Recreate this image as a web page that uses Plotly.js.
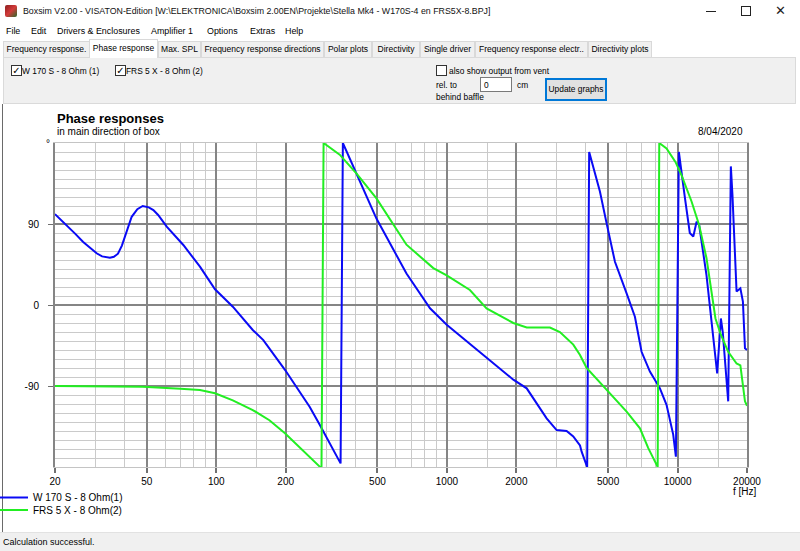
<!DOCTYPE html>
<html><head><meta charset="utf-8">
<script src="https://cdn.plot.ly/plotly-3.0.1.min.js"></script>
<style>
body{margin:0;width:800px;height:551px;overflow:hidden;background:#fff;font-family:"Liberation Sans",Arial,sans-serif;color:#000;position:relative}
.a{position:absolute;white-space:nowrap;line-height:1}
.tab{position:absolute;top:41px;height:16px;background:#f0f0f0;border:1px solid #d9d9d9;border-bottom:none;box-sizing:border-box;font-size:8.5px;text-align:center;line-height:15px;overflow:hidden;white-space:nowrap}
.tab.sel{top:39px;height:19px;background:#fff;line-height:16px;z-index:2}
.cb{position:absolute;width:11px;height:11px;border:1px solid #333;background:#fff;box-sizing:border-box;font-family:"DejaVu Sans";font-size:10px;line-height:10px;text-align:center}
.m{position:absolute;top:27px;font-size:8.9px;white-space:nowrap;line-height:1}
.p{position:absolute;font-size:8.4px;white-space:nowrap;line-height:1}
#plot{position:absolute;left:0;top:0;width:800px;height:551px;z-index:5}
</style></head>
<body>
<!-- window chrome -->
<div class="a" style="left:0;top:0;width:800px;height:22px;background:#fff"></div>
<div class="a" style="left:5px;top:5px;width:12px;height:12px;background:linear-gradient(135deg,#8a1e1e,#d43a3a 50%,#2c6a2c);border-radius:2px"></div>
<div class="a" style="left:23px;top:7px;font-size:8.8px;color:#111">Boxsim V2.00 - VISATON-Edition [W:\ELEKTRONICA\Boxsim 2.00EN\Projekte\Stella Mk4 - W170S-4 en FRS5X-8.BPJ]</div>
<div class="a" style="left:706px;top:11px;width:10px;height:1px;background:#222"></div>
<div class="a" style="left:741px;top:6px;width:10px;height:10px;border:1px solid #222;box-sizing:border-box"></div>
<div class="a" style="left:775px;top:4px;font-size:13px;font-family:'DejaVu Sans';color:#222">✕</div>
<div class="a" style="left:0;top:22px;width:800px;height:18px;background:#fff"></div>
<div class="m" style="left:6px">File</div>
<div class="m" style="left:31px">Edit</div>
<div class="m" style="left:57px">Drivers &amp; Enclosures</div>
<div class="m" style="left:151px">Amplifier 1</div>
<div class="m" style="left:207px">Options</div>
<div class="m" style="left:250px">Extras</div>
<div class="m" style="left:285px">Help</div>
<!-- tabs -->
<div class="tab" style="left:3px;width:87px">Frequency response.</div>
<div class="tab sel" style="left:89px;width:69px">Phase response</div>
<div class="tab" style="left:158px;width:43px">Max. SPL</div>
<div class="tab" style="left:201px;width:123px">Frequency response directions</div>
<div class="tab" style="left:324px;width:48px">Polar plots</div>
<div class="tab" style="left:372px;width:48px">Directivity</div>
<div class="tab" style="left:420px;width:55px">Single driver</div>
<div class="tab" style="left:475px;width:113px">Frequency response electr..</div>
<div class="tab" style="left:588px;width:64px">Directivity plots</div>
<!-- controls panel -->
<div class="a" style="left:3px;top:57px;width:793px;height:47px;background:#f0f0f0;border:1px solid #dadada;box-sizing:border-box"></div>
<div class="cb" style="left:11px;top:65px">✓</div>
<div class="p" style="left:22px;top:67px">W 170 S - 8 Ohm (1)</div>
<div class="cb" style="left:115px;top:65px">✓</div>
<div class="p" style="left:126px;top:67px">FRS 5 X - 8 Ohm (2)</div>
<div class="cb" style="left:436px;top:65px"></div>
<div class="p" style="left:449px;top:67px">also show output from vent</div>
<div class="p" style="left:436px;top:81px">rel. to</div>
<div class="p" style="left:436px;top:93px">behind baffle</div>
<div class="p" style="left:480px;top:77px;width:32px;height:15px;background:#fff;border:1px solid #7a7a7a;box-sizing:border-box;padding:3px 3px">0</div>
<div class="p" style="left:517px;top:81px">cm</div>
<div class="p" style="left:545px;top:78px;width:62px;height:23px;background:#e1e1e1;border:2px solid #0078d7;box-sizing:border-box;text-align:center;line-height:19px">Update graphs</div>
<!-- white plot panel -->
<div class="a" style="left:2px;top:104px;width:794px;height:428px;background:#fff;border-left:1px solid #6a6a6a"></div>
<div class="a" style="left:0;top:532px;width:800px;height:19px;background:#f0f0f0;border-top:1px solid #e2e2e2"></div>
<div class="a" style="left:3px;top:538px;font-size:9px">Calculation successful.</div>

<div id="plot"></div>
<script>
// ---- data (frequency in Hz, phase in degrees) ----
const w170Freq  = [20, 22.4, 24.5, 26.5, 28.5, 30.3, 32, 34.6, 36, 37.5, 39, 41, 43, 45.5, 48, 51, 53.4, 56, 61, 72, 85, 98.8, 118, 144, 160, 198.6, 222, 254, 281, 321, 346,
                   354, 406, 495, 668, 845, 998, 1486, 1941, 2218, 2706, 2990, 3303, 3531, 3776, 3838, 4056,
                   4138, 4607, 4923, 5353, 6013, 6533, 6982, 7588, 8385, 8956, 9575, 9834,
                   10130, 10250, 10770, 11300, 11700, 12090, 12400, 13350, 14260, 14850, 15410, 15700, 16580, 17020, 17300, 18020, 18720, 19200, 19600, 20000];
const w170Phase = [101, 89, 79, 70, 63, 57.5, 54, 52.6, 53.5, 57, 66, 83, 98, 106.5, 110, 108.5, 105.5, 100, 87, 66.7, 42.6, 17.4, -1.9, -27.8, -39, -72, -90.7, -113, -133, -161, -176,
                   180, 146, 96, 35, -3.7, -22, -59, -83, -92.6, -126, -139, -140, -146, -156, -163, -180,
                   170, 126, 91, 48, 13, -13, -52, -74, -92.6, -111, -144, -168.5,
                   170, 159, 118.5, 80, 76, 92.6, 89, 33, -33, -76, -15, -30, -107, 154, 122, 15, 18.5, 3.7, -48, -50];
const frs5Freq  = [20, 30, 48, 70, 85, 98.8, 118, 144, 170, 198.6, 254, 281, 286,
                   292, 343, 406, 495, 668, 873, 998, 1258, 1486, 1941, 2218, 2797, 3090, 3531, 3776, 4034, 4842, 6013, 6870, 7465, 8056, 8200,
                   8330, 8956, 9790, 10410, 11500, 12400, 13350, 14600, 15410, 16580, 18020, 18720, 19600, 20000];
const frs5Phase = [-90, -90, -90.7, -93, -94.4, -98, -106, -116.7, -128, -142.6, -168.5, -179.6, -180,
                   180, 167, 146, 118.5, 67, 41, 33, 16.7, -3.7, -20, -25, -25, -30, -44, -55.6, -70, -92.6, -118.5, -137, -159, -176, -180,
                   180, 174, 159, 144, 115, 89, 52, -15, -33, -52, -65, -67, -107, -112];
const xTickVals = [20, 50, 100, 200, 500, 1000, 2000, 5000, 10000, 20000];
const xMinorVals = [30, 40, 60, 70, 80, 90, 150, 300, 400, 600, 700, 800, 900, 1500, 3000, 4000, 6000, 7000, 8000, 9000, 15000];
const yTickVals = [-90, 0, 90];
const seriesNames = ['W 170 S - 8 Ohm(1)', 'FRS 5 X - 8 Ohm(2)'];
const chartTitle = 'Phase responses';
const chartSubtitle = 'in main direction of box';
const chartDate = '8/04/2020';
const xUnit = 'f [Hz]';

const L = 55, R = 53, T = 143, B = 84, W = 800, H = 551;
const pw = W - L - R, ph = H - T - B;
const px = x => (x - L) / pw;
const py = y => (H - B - y) / ph;
const font = {family: 'Liberation Sans, Arial, sans-serif', size: 10, color: '#000'};

const traces = [
  {x: w170Freq, y: w170Phase, name: seriesNames[0], type: 'scatter', mode: 'lines',
   line: {color: '#0a0af5', width: 2}, legend: 'legend'},
  {x: frs5Freq, y: frs5Phase, name: seriesNames[1], type: 'scatter', mode: 'lines',
   line: {color: '#22ee22', width: 2}, legend: 'legend2'}
];
const legendBase = {bgcolor: 'rgba(0,0,0,0)', borderwidth: 0, font: font, xanchor: 'left', yanchor: 'top',
  itemwidth: 30, tracegroupgap: 0};
const layout = {
  width: W, height: H,
  margin: {l: L, r: R, t: T, b: B, pad: 0, autoexpand: false},
  paper_bgcolor: 'rgba(0,0,0,0)', plot_bgcolor: '#fff',
  font: font,
  showlegend: true,
  legend: Object.assign({x: px(-7), y: py(483)}, legendBase),
  legend2: Object.assign({x: px(-7), y: py(495.5)}, legendBase),
  xaxis: {type: 'log', range: [Math.log10(20), Math.log10(20000)], automargin: false,
    tickmode: 'array', tickvals: xTickVals, ticktext: xTickVals.map(String),
    ticks: 'outside', ticklen: 5, tickwidth: 2, tickcolor: '#707070',
    showgrid: true, gridcolor: '#858585', gridwidth: 2,
    minor: {tickvals: xMinorVals, showgrid: true, gridcolor: '#cacaca', gridwidth: 1, ticks: ''},
    showline: true, mirror: true, linecolor: '#c4c4c4', linewidth: 1,
    zeroline: false, tickfont: font, fixedrange: true},
  yaxis: {range: [-180, 180], automargin: false,
    tickmode: 'array', tickvals: yTickVals, ticktext: yTickVals.map(String),
    ticks: 'outside', ticklen: 5, tickwidth: 1, tickcolor: '#707070', ticklabelstandoff: 7,
    showgrid: true, gridcolor: '#858585', gridwidth: 2,
    minor: {dtick: 10, tick0: 0, showgrid: true, gridcolor: '#cacaca', gridwidth: 1, ticks: ''},
    showline: true, mirror: true, linecolor: '#858585', linewidth: 2,
    zeroline: false, tickfont: font, fixedrange: true},
  annotations: [
    {text: '<b>' + chartTitle + '</b>', xref: 'paper', yref: 'paper', x: 0, y: py(118), xanchor: 'left', yanchor: 'middle',
     showarrow: false, font: {family: 'Liberation Sans, Arial, sans-serif', size: 13, color: '#000'}},
    {text: chartSubtitle, xref: 'paper', yref: 'paper', x: 0, y: py(131), xanchor: 'left', yanchor: 'middle',
     showarrow: false, font: font},
    {text: chartDate, xref: 'paper', yref: 'paper', x: px(745), y: py(131), xanchor: 'right', yanchor: 'middle',
     showarrow: false, font: font},
    {text: xUnit, xref: 'paper', yref: 'paper', x: px(745), y: py(492), xanchor: 'center', yanchor: 'middle',
     showarrow: false, font: font},
    {text: '°', xref: 'paper', yref: 'y', x: px(48), y: 180, xanchor: 'center', yanchor: 'middle',
     showarrow: false, font: font}
  ]
};
Plotly.newPlot('plot', traces, layout, {staticPlot: true, displayModeBar: false});
</script>
</body></html>
